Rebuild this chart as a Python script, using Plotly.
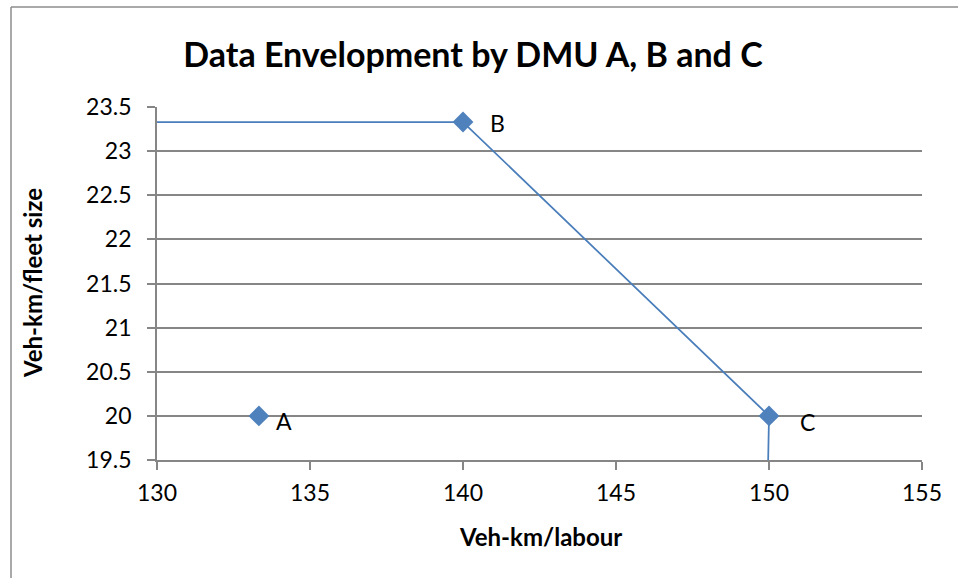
import plotly.graph_objects as go

# DMU points
dmu_names = ["A", "B", "C"]
dmu_x = [133.33, 140.0, 150.0]
dmu_y = [20.0, 23.33, 20.0]

# Envelope (frontier) line
env_x = [129.87, 140.0, 150.0, 149.97]
env_y = [23.33, 23.33, 20.0, 19.45]

x_ticks = [130, 135, 140, 145, 150, 155]
y_ticks = [19.5, 20, 20.5, 21, 21.5, 22, 22.5, 23, 23.5]

label_dx = [25, 34, 38]
label_dy = [-5, -1, -6]

W, H = 958, 578
L, R, T, B = 157, 36, 107, 118
pw, ph = W - L - R, H - T - B

def px(xp):
    return (xp - L) / pw

def py(yp):
    return (H - B - yp) / ph

FONT = "Lato"
BLUE = "#4F81BD"
GRID = "#868686"

fig = go.Figure()
fig.add_trace(go.Scatter(
    x=env_x, y=env_y, mode="lines",
    line=dict(color="#4A7EBB", width=1.75),
    hoverinfo="skip", showlegend=False,
))
fig.add_trace(go.Scatter(
    x=dmu_x, y=dmu_y, mode="markers",
    marker=dict(symbol="diamond", size=16, color=BLUE, line=dict(width=0)),
    showlegend=False, cliponaxis=False,
))

for n, xv, yv, dx, dy in zip(dmu_names, dmu_x, dmu_y, label_dx, label_dy):
    fig.add_annotation(x=xv, y=yv, text=n, showarrow=False,
                       xanchor="center", yanchor="middle", xshift=dx, yshift=dy,
                       font=dict(family=FONT, size=23, color="black"))

fig.add_annotation(xref="paper", yref="paper", x=px(540), y=py(536),
                   text="<b>Veh-km/labour</b>", showarrow=False,
                   xanchor="center", yanchor="middle",
                   font=dict(family=FONT, size=24, color="black"))
fig.add_annotation(xref="paper", yref="paper", x=px(32), y=py(283),
                   text="<b>Veh-km/fleet size</b>", showarrow=False, textangle=-90,
                   xanchor="center", yanchor="middle",
                   font=dict(family=FONT, size=24, color="black"))

fig.update_layout(
    width=W, height=H,
    margin=dict(l=L, r=R, t=T, b=B),
    paper_bgcolor="white", plot_bgcolor="white",
    font=dict(family=FONT, size=23, color="black"),
    title=dict(text="<b>Data Envelopment by DMU A, B and C</b>",
               xref="container", yref="container",
               x=473 / W, xanchor="center", y=1 - 55 / H, yanchor="middle",
               font=dict(family=FONT, size=34, color="black")),
    xaxis=dict(
        range=[130, 155], tickvals=x_ticks, ticktext=[str(v) for v in x_ticks],
        showgrid=False, zeroline=False,
        showline=True, linecolor=GRID, linewidth=1.75,
        ticks="outside", ticklen=8, tickcolor=GRID, tickwidth=1.5,
        ticklabelstandoff=4,
        tickfont=dict(family=FONT, size=23, color="black"),
    ),
    yaxis=dict(
        range=[19.5, 23.5], tickvals=y_ticks,
        ticktext=[("%g" % v) for v in y_ticks],
        showgrid=True, gridcolor=GRID, gridwidth=1.5,
        zeroline=False,
        showline=True, linecolor=GRID, linewidth=1.75,
        ticks="outside", ticklen=8, tickcolor=GRID, tickwidth=1.5,
        ticklabelstandoff=11,
        tickfont=dict(family=FONT, size=23, color="black"),
    ),
    shapes=[
        dict(type="line", xref="paper", yref="paper",
             x0=px(11), x1=px(11), y0=py(7), y1=py(H + 5),
             line=dict(color="#8C8C8C", width=1.5)),
        dict(type="line", xref="paper", yref="paper",
             x0=px(11), x1=px(W + 5), y0=py(7), y1=py(7),
             line=dict(color="#8C8C8C", width=1.5)),
    ],
)

fig.write_html("out.html", config={"displayModeBar": False},
               post_script="document.body.style.margin='0';document.body.style.overflow='hidden';")
